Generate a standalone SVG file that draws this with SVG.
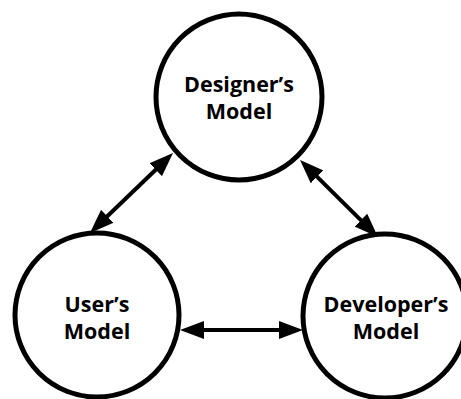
<svg xmlns="http://www.w3.org/2000/svg" width="461" height="399" viewBox="0 0 461 399">
<style>
.node{fill:#fff;stroke:#000;stroke-width:5}
.lbl{font-family:"Open Sans","DejaVu Sans",sans-serif;font-weight:bold;font-size:21.5px;fill:#000;text-anchor:middle}
.conn{stroke:#000;stroke-width:4;fill:none;marker-start:url(#ah);marker-end:url(#ah)}
</style>
<defs>
<marker id="ah" viewBox="0 0 24 18" refX="18" refY="9" markerWidth="24" markerHeight="18" markerUnits="userSpaceOnUse" orient="auto-start-reverse">
<path d="M0,0 L24,9 L0,18 z" fill="#000"/>
</marker>
</defs>
<rect width="461" height="399" fill="#fff"/>
<g id="designer">
<circle class="node" cx="239" cy="97" r="83"/>
<text class="lbl" x="239" y="92">Designer’s</text>
<text class="lbl" x="239" y="119">Model</text>
</g>
<g id="user">
<circle class="node" cx="97" cy="315" r="82"/>
<text class="lbl" x="97" y="312">User’s</text>
<text class="lbl" x="97" y="339">Model</text>
</g>
<g id="developer">
<circle class="node" cx="385" cy="316" r="82"/>
<text class="lbl" x="386" y="312">Developer’s</text>
<text class="lbl" x="386" y="339">Model</text>
</g>
<g id="connectors">
<path class="conn" d="M94.3,228.8 L168.7,157.2"/>
<path class="conn" d="M304.3,164.2 L373.7,232.8"/>
<path class="conn" d="M186,330 L297,330"/>
</g>
</svg>
